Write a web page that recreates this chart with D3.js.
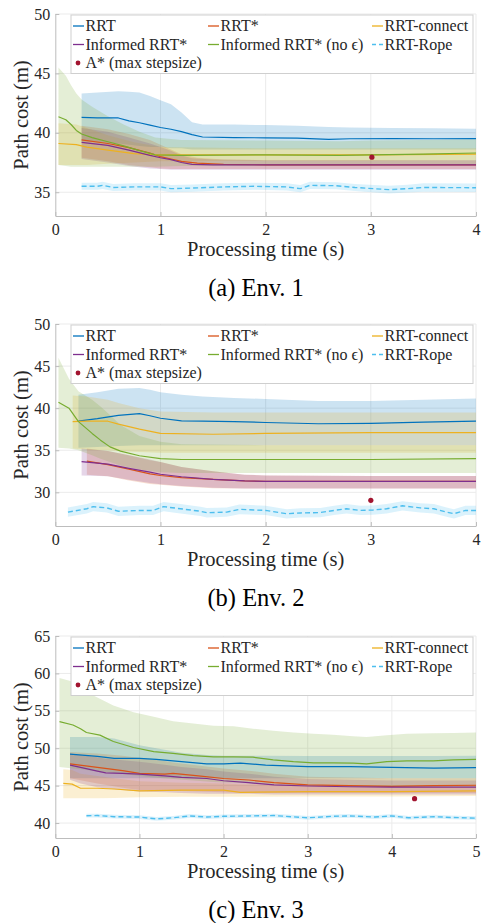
<!DOCTYPE html>
<html>
<head>
<meta charset="utf-8">
<script src="https://cdn.jsdelivr.net/npm/d3@7"></script>
<style>
  body { margin: 0; background: #fff; }
  svg { display: block; }
</style>
</head>
<body>
<svg id="fig" width="485" height="923"></svg>
<script>
// ---- Series data: rows are [time (s), mean cost, lower bound, upper bound] ----

// Env. 1
const env1RRT = [
  [0.25, 41.3, 39.3, 43.3], [0.4, 41.25, 39.2, 43.4], [0.6, 41.25, 39.1, 43.5],
  [0.7, 41.0, 39.0, 43.45], [0.8, 40.85, 38.9, 43.4], [0.9, 40.65, 38.8, 43.1],
  [1.0, 40.45, 38.8, 42.75], [1.1, 40.3, 38.7, 42.4], [1.2, 40.1, 38.7, 41.7],
  [1.3, 39.85, 38.6, 40.9], [1.4, 39.65, 38.6, 40.7], [1.7, 39.6, 38.6, 40.7],
  [2.0, 39.58, 38.6, 40.65], [2.3, 39.55, 38.6, 40.6], [2.6, 39.45, 38.6, 40.5],
  [2.8, 39.5, 38.6, 40.45], [3.2, 39.52, 38.6, 40.4], [3.6, 39.5, 38.6, 40.38],
  [4.0, 39.52, 38.6, 40.35]
];
const env1RRTStar = [
  [0.25, 39.4, 37.9, 40.6], [0.5, 39.1, 37.6, 40.3], [0.7, 38.75, 37.3, 39.9],
  [0.9, 38.3, 37.1, 39.4], [1.0, 38.0, 37.0, 39.0], [1.1, 37.8, 36.95, 38.6],
  [1.2, 37.6, 36.95, 38.2], [1.35, 37.45, 36.95, 37.9], [1.6, 37.35, 36.95, 37.75],
  [2.0, 37.3, 36.95, 37.7], [3.0, 37.3, 36.95, 37.7], [4.0, 37.3, 36.95, 37.7]
];
const env1Connect = [
  [0.03, 39.1, 37.3, 40.8], [0.2, 39.0, 37.3, 40.7], [0.3, 38.8, 37.3, 40.4],
  [0.5, 38.55, 37.4, 39.8], [0.75, 38.25, 37.5, 39.2], [1.0, 38.15, 37.6, 38.8],
  [2.0, 38.15, 37.65, 38.7], [3.0, 38.15, 37.65, 38.7], [4.0, 38.2, 37.7, 38.7]
];
const env1Informed = [
  [0.25, 39.2, 37.8, 40.4], [0.5, 38.95, 37.5, 40.1], [0.7, 38.55, 37.2, 39.6],
  [0.9, 38.1, 37.0, 39.1], [1.0, 37.9, 36.95, 38.8], [1.1, 37.75, 36.9, 38.5],
  [1.2, 37.5, 36.9, 38.1], [1.3, 37.35, 36.9, 37.85], [1.5, 37.3, 36.9, 37.75],
  [2.0, 37.3, 36.9, 37.7], [3.0, 37.3, 36.9, 37.7], [4.0, 37.3, 36.9, 37.7]
];
const env1InformedNoEps = [
  [0.03, 41.35, 37.3, 45.5], [0.1, 41.1, 37.2, 44.8], [0.15, 40.7, 37.15, 44.0],
  [0.2, 40.2, 37.15, 43.3], [0.25, 39.9, 37.15, 42.8], [0.35, 39.6, 37.15, 42.2],
  [0.5, 39.25, 37.15, 41.4], [0.65, 38.9, 37.15, 40.7], [0.8, 38.5, 37.15, 40.1],
  [0.95, 38.15, 37.15, 39.6], [1.2, 38.1, 37.2, 39.4], [2.0, 38.15, 37.2, 39.35],
  [2.7, 38.1, 37.2, 39.3], [3.0, 38.15, 37.2, 39.35], [3.5, 38.2, 37.25, 39.4],
  [4.0, 38.3, 37.3, 39.45]
];
const env1Rope = [
  [0.25, 35.5, 35.2, 35.8], [0.4, 35.5, 35.2, 35.8], [0.45, 35.58, 35.28, 35.88],
  [0.55, 35.4, 35.1, 35.7], [0.75, 35.45, 35.15, 35.75], [1.0, 35.45, 35.15, 35.75],
  [1.1, 35.3, 35.0, 35.6], [1.3, 35.35, 35.05, 35.65], [1.6, 35.45, 35.15, 35.75],
  [1.9, 35.5, 35.2, 35.8], [2.2, 35.45, 35.15, 35.75], [2.33, 35.3, 35.0, 35.6],
  [2.42, 35.58, 35.28, 35.88], [2.67, 35.55, 35.25, 35.85], [2.85, 35.4, 35.1, 35.7],
  [3.17, 35.22, 34.9, 35.55], [3.35, 35.3, 34.98, 35.63], [3.5, 35.4, 35.05, 35.75],
  [4.0, 35.38, 35.03, 35.73]
];
const env1AStar = [[3.01, 37.95]];

// Env. 2
const env2RRT = [
  [0.22, 38.45, 35.3, 41.6], [0.4, 38.75, 35.4, 41.9], [0.6, 39.15, 35.5, 42.3],
  [0.8, 39.35, 35.6, 42.4], [0.9, 39.1, 35.6, 42.2], [1.0, 38.8, 35.6, 41.9],
  [1.2, 38.5, 35.6, 41.6], [1.4, 38.45, 35.6, 41.4], [1.7, 38.4, 35.6, 41.2],
  [2.0, 38.3, 35.6, 41.1], [2.5, 38.15, 35.6, 40.85], [3.0, 38.2, 35.6, 40.85],
  [3.5, 38.35, 35.6, 41.0], [4.0, 38.45, 35.6, 41.15]
];
const env2RRTStar = [
  [0.3, 33.7, 32.1, 35.2], [0.5, 33.3, 31.9, 34.9], [0.7, 32.75, 31.4, 34.4],
  [0.9, 32.2, 31.0, 33.8], [1.0, 32.0, 30.9, 33.6], [1.2, 31.75, 30.7, 33.0],
  [1.5, 31.55, 30.5, 32.5], [1.8, 31.35, 30.45, 32.1], [2.0, 31.3, 30.45, 32.0],
  [3.0, 31.3, 30.45, 31.95], [4.0, 31.3, 30.45, 31.95]
];
const env2Connect = [
  [0.165, 38.4, 35.2, 41.5], [0.3, 38.45, 35.1, 41.4], [0.5, 38.45, 35.0, 41.0],
  [0.6, 38.1, 34.9, 40.6], [0.8, 37.5, 34.8, 40.0], [1.0, 37.0, 34.7, 39.6],
  [1.5, 36.9, 34.7, 39.5], [2.0, 37.0, 34.7, 39.5], [3.0, 37.1, 34.7, 39.5],
  [4.0, 37.1, 34.7, 39.5]
];
const env2Informed = [
  [0.25, 33.65, 32.0, 35.2], [0.5, 33.35, 31.9, 34.9], [0.7, 32.85, 31.5, 34.4],
  [0.9, 32.4, 31.1, 33.9], [1.0, 32.15, 30.95, 33.6], [1.2, 31.85, 30.75, 33.0],
  [1.5, 31.55, 30.55, 32.5], [1.8, 31.35, 30.45, 32.1], [2.0, 31.3, 30.45, 32.0],
  [3.0, 31.3, 30.45, 31.95], [4.0, 31.3, 30.45, 31.95]
];
const env2InformedNoEps = [
  [0.03, 40.7, 35.3, 46.0], [0.13, 40.0, 35.2, 43.5], [0.22, 38.4, 35.0, 42.0],
  [0.35, 37.0, 34.4, 41.0], [0.43, 36.2, 34.0, 40.2], [0.52, 35.4, 33.6, 39.2],
  [0.62, 34.9, 33.2, 38.0], [0.8, 34.35, 32.7, 36.7], [1.0, 34.0, 32.4, 36.0],
  [1.2, 33.9, 32.3, 35.7], [2.0, 33.9, 32.3, 35.6], [3.0, 33.9, 32.3, 35.6],
  [4.0, 34.0, 32.3, 35.6]
];
const env2Rope = [
  [0.12, 27.65, 27.1, 28.2], [0.3, 28.05, 27.5, 28.6], [0.36, 28.3, 27.75, 28.85],
  [0.49, 28.15, 27.6, 28.7], [0.6, 27.75, 27.2, 28.3], [0.8, 27.85, 27.3, 28.4],
  [0.93, 27.85, 27.3, 28.4], [1.03, 28.3, 27.75, 28.85], [1.19, 28.05, 27.5, 28.6],
  [1.38, 27.75, 27.2, 28.3], [1.44, 27.58, 27.0, 28.15], [1.63, 27.65, 27.1, 28.2],
  [1.75, 27.98, 27.4, 28.55], [2.0, 27.85, 27.3, 28.4], [2.2, 27.46, 26.9, 28.0],
  [2.33, 27.55, 27.0, 28.1], [2.52, 27.6, 27.05, 28.15], [2.65, 27.85, 27.3, 28.4],
  [2.77, 28.05, 27.5, 28.6], [2.9, 27.85, 27.3, 28.4], [3.02, 27.9, 27.35, 28.45],
  [3.15, 28.05, 27.5, 28.6], [3.3, 28.4, 27.85, 28.95], [3.47, 28.15, 27.6, 28.7],
  [3.6, 28.05, 27.5, 28.6], [3.72, 27.65, 27.1, 28.2], [3.79, 27.46, 26.9, 28.0],
  [3.9, 27.85, 27.3, 28.4], [4.0, 27.85, 27.3, 28.4]
];
const env2AStar = [[3.0, 29.05]];

// Env. 3
const env3RRT = [
  [0.175, 49.2, 46.0, 51.5], [0.5, 48.9, 46.0, 51.5], [0.7, 48.65, 46.0, 51.3],
  [1.0, 48.65, 46.0, 50.4], [1.2, 48.5, 46.0, 50.0], [1.5, 48.2, 46.0, 49.4],
  [1.8, 47.9, 46.0, 49.1], [2.0, 47.9, 46.0, 49.0], [2.2, 48.0, 46.0, 49.0],
  [2.5, 47.75, 46.0, 49.0], [3.0, 47.55, 46.0, 48.95], [3.5, 47.55, 46.0, 48.95],
  [4.0, 47.45, 46.0, 48.95], [4.5, 47.35, 46.0, 48.95], [5.0, 47.4, 46.0, 49.0]
];
const env3RRTStar = [
  [0.175, 47.9, 46.0, 49.5], [0.5, 47.45, 45.3, 49.3], [0.8, 47.0, 44.7, 49.0],
  [1.0, 46.65, 44.4, 48.7], [1.3, 46.55, 44.3, 48.3], [1.4, 46.65, 44.3, 48.1],
  [1.7, 46.3, 44.2, 47.7], [2.0, 45.95, 44.1, 47.3], [2.3, 45.75, 44.0, 47.0],
  [2.6, 45.4, 44.0, 46.6], [3.0, 45.1, 44.0, 46.2], [3.5, 45.0, 44.0, 46.1],
  [4.0, 44.9, 44.0, 46.0], [4.5, 45.0, 44.0, 46.0], [5.0, 45.05, 44.0, 46.0]
];
const env3Connect = [
  [0.095, 45.3, 43.3, 47.2], [0.2, 45.2, 43.3, 47.1], [0.3, 44.65, 43.3, 46.6],
  [0.5, 44.65, 43.3, 46.3], [0.7, 44.55, 43.35, 46.0], [1.0, 44.3, 43.45, 45.6],
  [1.5, 44.4, 43.5, 45.4], [2.0, 44.4, 43.5, 45.3], [2.2, 44.1, 43.5, 45.2],
  [3.0, 44.2, 43.55, 45.1], [4.0, 44.2, 43.55, 45.1], [5.0, 44.3, 43.6, 45.1]
];
const env3Informed = [
  [0.175, 47.75, 45.8, 49.3], [0.3, 47.45, 45.3, 49.1], [0.5, 46.95, 44.8, 48.8],
  [0.6, 46.7, 44.6, 48.6], [0.8, 46.65, 44.4, 48.4], [1.0, 46.55, 44.2, 48.2],
  [1.3, 46.3, 44.1, 47.8], [1.5, 46.1, 44.0, 47.5], [1.8, 45.95, 43.9, 47.2],
  [2.0, 45.65, 43.9, 46.9], [2.3, 45.4, 43.9, 46.6], [2.6, 45.1, 43.8, 46.2],
  [3.0, 44.95, 43.8, 45.9], [3.5, 44.85, 43.8, 45.8], [4.0, 44.8, 43.8, 45.7],
  [5.0, 44.8, 43.8, 45.7]
];
const env3InformedNoEps = [
  [0.05, 53.55, 47.5, 59.4], [0.21, 53.1, 47.3, 58.9], [0.3, 52.6, 47.2, 58.0],
  [0.37, 52.1, 47.1, 57.5], [0.53, 51.75, 46.9, 56.6], [0.69, 50.9, 46.7, 55.7],
  [0.93, 50.1, 46.4, 54.8], [1.17, 49.55, 46.1, 54.2], [1.4, 49.3, 45.9, 53.6],
  [1.64, 49.0, 45.7, 53.3], [1.88, 48.85, 45.5, 53.0], [2.12, 48.85, 45.4, 52.95],
  [2.35, 48.8, 45.3, 52.6], [2.59, 48.45, 45.2, 52.35], [2.83, 48.2, 45.1, 52.1],
  [3.07, 48.05, 45.0, 51.95], [3.3, 48.05, 45.0, 51.8], [3.54, 48.0, 44.9, 51.6],
  [3.7, 47.9, 44.9, 51.5], [3.94, 48.2, 44.9, 51.75], [4.18, 48.3, 44.9, 51.95],
  [4.49, 48.3, 44.9, 52.0], [4.73, 48.45, 44.9, 52.05], [5.0, 48.5, 44.9, 52.1]
];
const env3Rope = [
  [0.37, 40.98, 40.73, 41.23], [0.5, 41.0, 40.75, 41.25], [0.7, 40.85, 40.6, 41.1],
  [1.0, 40.8, 40.55, 41.05], [1.2, 40.55, 40.3, 40.8], [1.4, 40.7, 40.45, 40.95],
  [1.6, 40.95, 40.7, 41.2], [1.8, 40.8, 40.55, 41.05], [2.0, 40.9, 40.65, 41.15],
  [2.3, 40.95, 40.7, 41.2], [2.6, 41.0, 40.75, 41.25], [2.8, 40.85, 40.6, 41.1],
  [3.0, 40.7, 40.45, 40.95], [3.3, 40.9, 40.65, 41.15], [3.5, 40.95, 40.7, 41.2],
  [3.8, 40.8, 40.55, 41.05], [4.0, 40.95, 40.7, 41.2], [4.2, 40.7, 40.45, 40.95],
  [4.5, 40.85, 40.6, 41.1], [4.7, 40.75, 40.5, 41.0], [5.0, 40.65, 40.4, 40.9]
];
const env3AStar = [[4.27, 43.25]];

// ---- Axis ticks and labels ----
const env1XTicks = [0, 1, 2, 3, 4];
const env1YTicks = [35, 40, 45, 50];
const env2XTicks = [0, 1, 2, 3, 4];
const env2YTicks = [30, 35, 40, 45, 50];
const env3XTicks = [0, 1, 2, 3, 4, 5];
const env3YTicks = [40, 45, 50, 55, 60, 65];
const captions = ["(a) Env. 1", "(b) Env. 2", "(c) Env. 3"];
const xLabel = "Processing time (s)";
const yLabel = "Path cost (m)";

// Legend entries in display order (three columns)
const legendNames = [
  "RRT", "RRT*", "RRT-connect",
  "Informed RRT*", "Informed RRT* (no \u03F5)", "RRT-Rope",
  "A* (max stepsize)"
];

// ---- Styling ----
const FONT = "'Liberation Serif'";
const TEXT_COLOR = "#262626";
const colors = {
  rrt: "#0072BD", rrtStar: "#D95319", connect: "#EDB120",
  informed: "#7E2F8E", noEps: "#77AC30", rope: "#4DBEEE", astar: "#A2142F"
};
const legendKeys = ["rrt", "rrtStar", "connect", "informed", "noEps", "rope", "astar"];

const panels = [
  { top: 14, xDomain: [0, 4], yDomain: [33, 50], xTicks: env1XTicks, yTicks: env1YTicks,
    series: { rrt: env1RRT, rrtStar: env1RRTStar, connect: env1Connect, informed: env1Informed, noEps: env1InformedNoEps, rope: env1Rope },
    astar: env1AStar, caption: captions[0] },
  { top: 324, xDomain: [0, 4], yDomain: [26, 50], xTicks: env2XTicks, yTicks: env2YTicks,
    series: { rrt: env2RRT, rrtStar: env2RRTStar, connect: env2Connect, informed: env2Informed, noEps: env2InformedNoEps, rope: env2Rope },
    astar: env2AStar, caption: captions[1] },
  { top: 636, xDomain: [0, 5], yDomain: [38, 65], xTicks: env3XTicks, yTicks: env3YTicks,
    series: { rrt: env3RRT, rrtStar: env3RRTStar, connect: env3Connect, informed: env3Informed, noEps: env3InformedNoEps, rope: env3Rope },
    astar: env3AStar, caption: captions[2] }
];

const plotLeft = 55.3, plotRight = 476, plotH = 202;
const svg = d3.select("#fig");

// serif text helper
function serif(sel, size) {
  return sel.style("font-family", FONT).style("font-size", size + "px").style("fill", TEXT_COLOR);
}

panels.forEach((p, i) => {
  const x = d3.scaleLinear(p.xDomain, [plotLeft, plotRight]);
  const y = d3.scaleLinear(p.yDomain, [p.top + plotH, p.top]);
  const g = svg.append("g");

  const clipId = "clip" + i;
  g.append("clipPath").attr("id", clipId).append("rect")
    .attr("x", plotLeft).attr("y", p.top).attr("width", plotRight - plotLeft).attr("height", plotH);

  // grid
  const grid = g.append("g").attr("stroke", "#ebebeb").attr("stroke-width", 1);
  p.xTicks.filter(t => t > 0).forEach(t => {
    grid.append("line").attr("x1", x(t)).attr("x2", x(t)).attr("y1", p.top).attr("y2", p.top + plotH);
  });
  p.yTicks.forEach(t => {
    grid.append("line").attr("x1", plotLeft).attr("x2", plotRight).attr("y1", y(t)).attr("y2", y(t));
  });

  const plot = g.append("g").attr("clip-path", `url(#${clipId})`);
  const area = d3.area().x(d => x(d[0])).y0(d => y(d[2])).y1(d => y(d[3]));
  const line = d3.line().x(d => x(d[0])).y(d => y(d[1]));

  // shaded bands
  ["rrt", "rrtStar", "connect", "informed", "noEps", "rope"].forEach(k => {
    plot.append("path").datum(p.series[k]).attr("d", area)
      .attr("fill", colors[k]).attr("fill-opacity", 0.2).attr("stroke", "none");
  });
  // mean lines
  ["rrt", "rrtStar", "connect", "informed", "noEps", "rope"].forEach(k => {
    const path = plot.append("path").datum(p.series[k]).attr("d", line)
      .attr("fill", "none").attr("stroke", colors[k])
      .attr("stroke-width", k === "rope" ? 1.4 : 1.2).attr("stroke-linejoin", "round");
    if (k === "rope") path.attr("stroke-dasharray", "5,3");
  });
  // A* result
  plot.selectAll("circle.astar").data(p.astar).join("circle").attr("class", "astar")
    .attr("cx", d => x(d[0])).attr("cy", d => y(d[1])).attr("r", 2.6).attr("fill", colors.astar);

  // axes
  const xAxis = g.append("g").attr("transform", `translate(0,${p.top + plotH})`)
    .call(d3.axisBottom(x).tickValues(p.xTicks).tickFormat(d3.format("d")).tickSizeInner(-4).tickSizeOuter(0).tickPadding(8));
  const yAxis = g.append("g").attr("transform", `translate(${plotLeft},0)`)
    .call(d3.axisLeft(y).tickValues(p.yTicks).tickFormat(d3.format("d")).tickSizeInner(-4).tickSizeOuter(0).tickPadding(5));
  [xAxis, yAxis].forEach(a => {
    a.select(".domain").attr("stroke", "#bdbdbd");
    a.selectAll(".tick line").attr("stroke", "#bdbdbd");
    serif(a.selectAll(".tick text"), 16);
  });

  // axis titles
  serif(g.append("text").attr("x", (plotLeft + plotRight) / 2).attr("y", p.top + plotH + 39.5)
    .attr("text-anchor", "middle"), 20.5).text(xLabel);
  serif(g.append("text").attr("transform", `translate(27.5,${p.top + plotH / 2}) rotate(-90)`)
    .attr("text-anchor", "middle"), 20.5).text(yLabel);

  // legend
  const lg = g.append("g").attr("transform", `translate(71,${p.top + 1})`);
  lg.append("rect").attr("x", 0).attr("y", 0).attr("width", 402).attr("height", 58.5)
    .attr("fill", "#fff").attr("stroke", "#cfcfcf").attr("stroke-width", 1);
  const colX = [2, 137, 301];
  const rowY = [11, 29.5, 48];
  legendNames.forEach((name, j) => {
    const k = legendKeys[j];
    const cx = colX[j % 3], cy = rowY[Math.floor(j / 3)];
    if (k === "astar") {
      lg.append("circle").attr("cx", cx + 5).attr("cy", cy).attr("r", 2.4).attr("fill", colors[k]);
    } else {
      const l = lg.append("line").attr("x1", cx).attr("x2", cx + 11).attr("y1", cy).attr("y2", cy)
        .attr("stroke", colors[k]).attr("stroke-width", k === "rope" ? 1.4 : 1.3);
      if (k === "rope") l.attr("stroke-dasharray", "4,3");
    }
    serif(lg.append("text").attr("x", cx + 12.5).attr("y", cy + 5.3), 16).text(name);
  });

  // sub-figure caption
  serif(g.append("text").attr("x", 256).attr("y", p.top + plotH + 80)
    .attr("text-anchor", "middle"), 24.5).style("fill", "#000").text(p.caption);
});
</script>
</body>
</html>
